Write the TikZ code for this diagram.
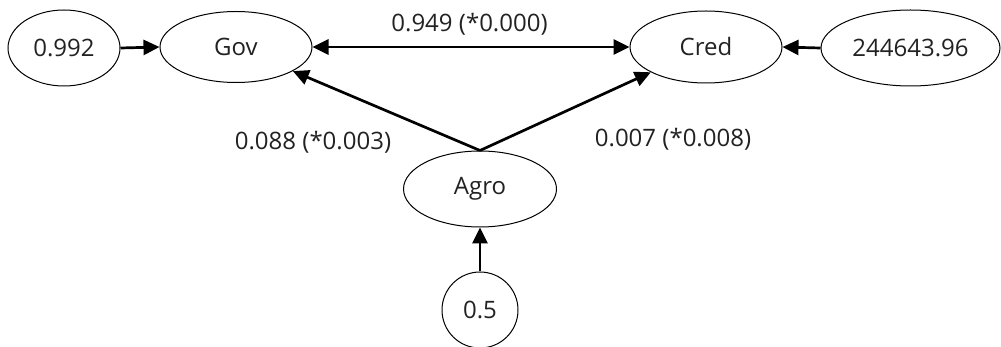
\documentclass[tikz,border=0pt]{standalone}
\usepackage{fontspec}
\setmainfont{Open Sans}
\usetikzlibrary{shapes.geometric,arrows.meta}
\definecolor{txt}{RGB}{34,34,34}
\tikzset{
  oval/.style={draw=black, line width=0.5pt, ellipse, inner sep=0pt, text=txt,
    font=\fontsize{12}{14}\selectfont},
  link/.style={draw=black, line width=1.35pt, -{Triangle[length=8pt,width=7.5pt]}},
  dlink/.style={draw=black, line width=1.35pt, {Triangle[length=8pt,width=7.5pt]}-{Triangle[length=8pt,width=7.5pt]}},
  lbl/.style={text=txt, inner sep=0pt, font=\fontsize{12}{14}\selectfont}
}
\begin{document}
\begin{tikzpicture}[x=0.5pt,y=-0.5pt]
\useasboundingbox (0,0) rectangle (1001,347);
\node[oval, minimum width=56pt, minimum height=38pt] (e1) at (64,48) {0.992};
\node[oval, minimum width=76pt, minimum height=35.5pt] (gov) at (236,47) {Gov};
\node[oval, minimum width=76pt, minimum height=36pt] (cred) at (706,47) {Cred};
\node[oval, minimum width=89.5pt, minimum height=38pt] (e2) at (910.5,48) {244643.96};
\node[oval, minimum width=76.5pt, minimum height=38pt] (agro) at (480,189) {Agro};
\node[oval, minimum width=38pt, minimum height=38pt] (e3) at (480,310) {0.5};
\draw[link] (e1.east) -- (gov.west);
\draw[link] (e2.west) -- (cred.east);
\draw[dlink] (gov.east) -- (cred.west);
\draw[link] (e3.north) -- (agro.south);
\draw[link] (agro.north) -- (gov);
\draw[link] (agro.north) -- (cred);
\node[lbl] (l1) at (469.5,24) {0.949 (*0.000)};
\node[lbl] (l2) at (313,142) {0.088 (*0.003)};
\node[lbl] (l3) at (673,139) {0.007 (*0.008)};
\end{tikzpicture}
\end{document}
